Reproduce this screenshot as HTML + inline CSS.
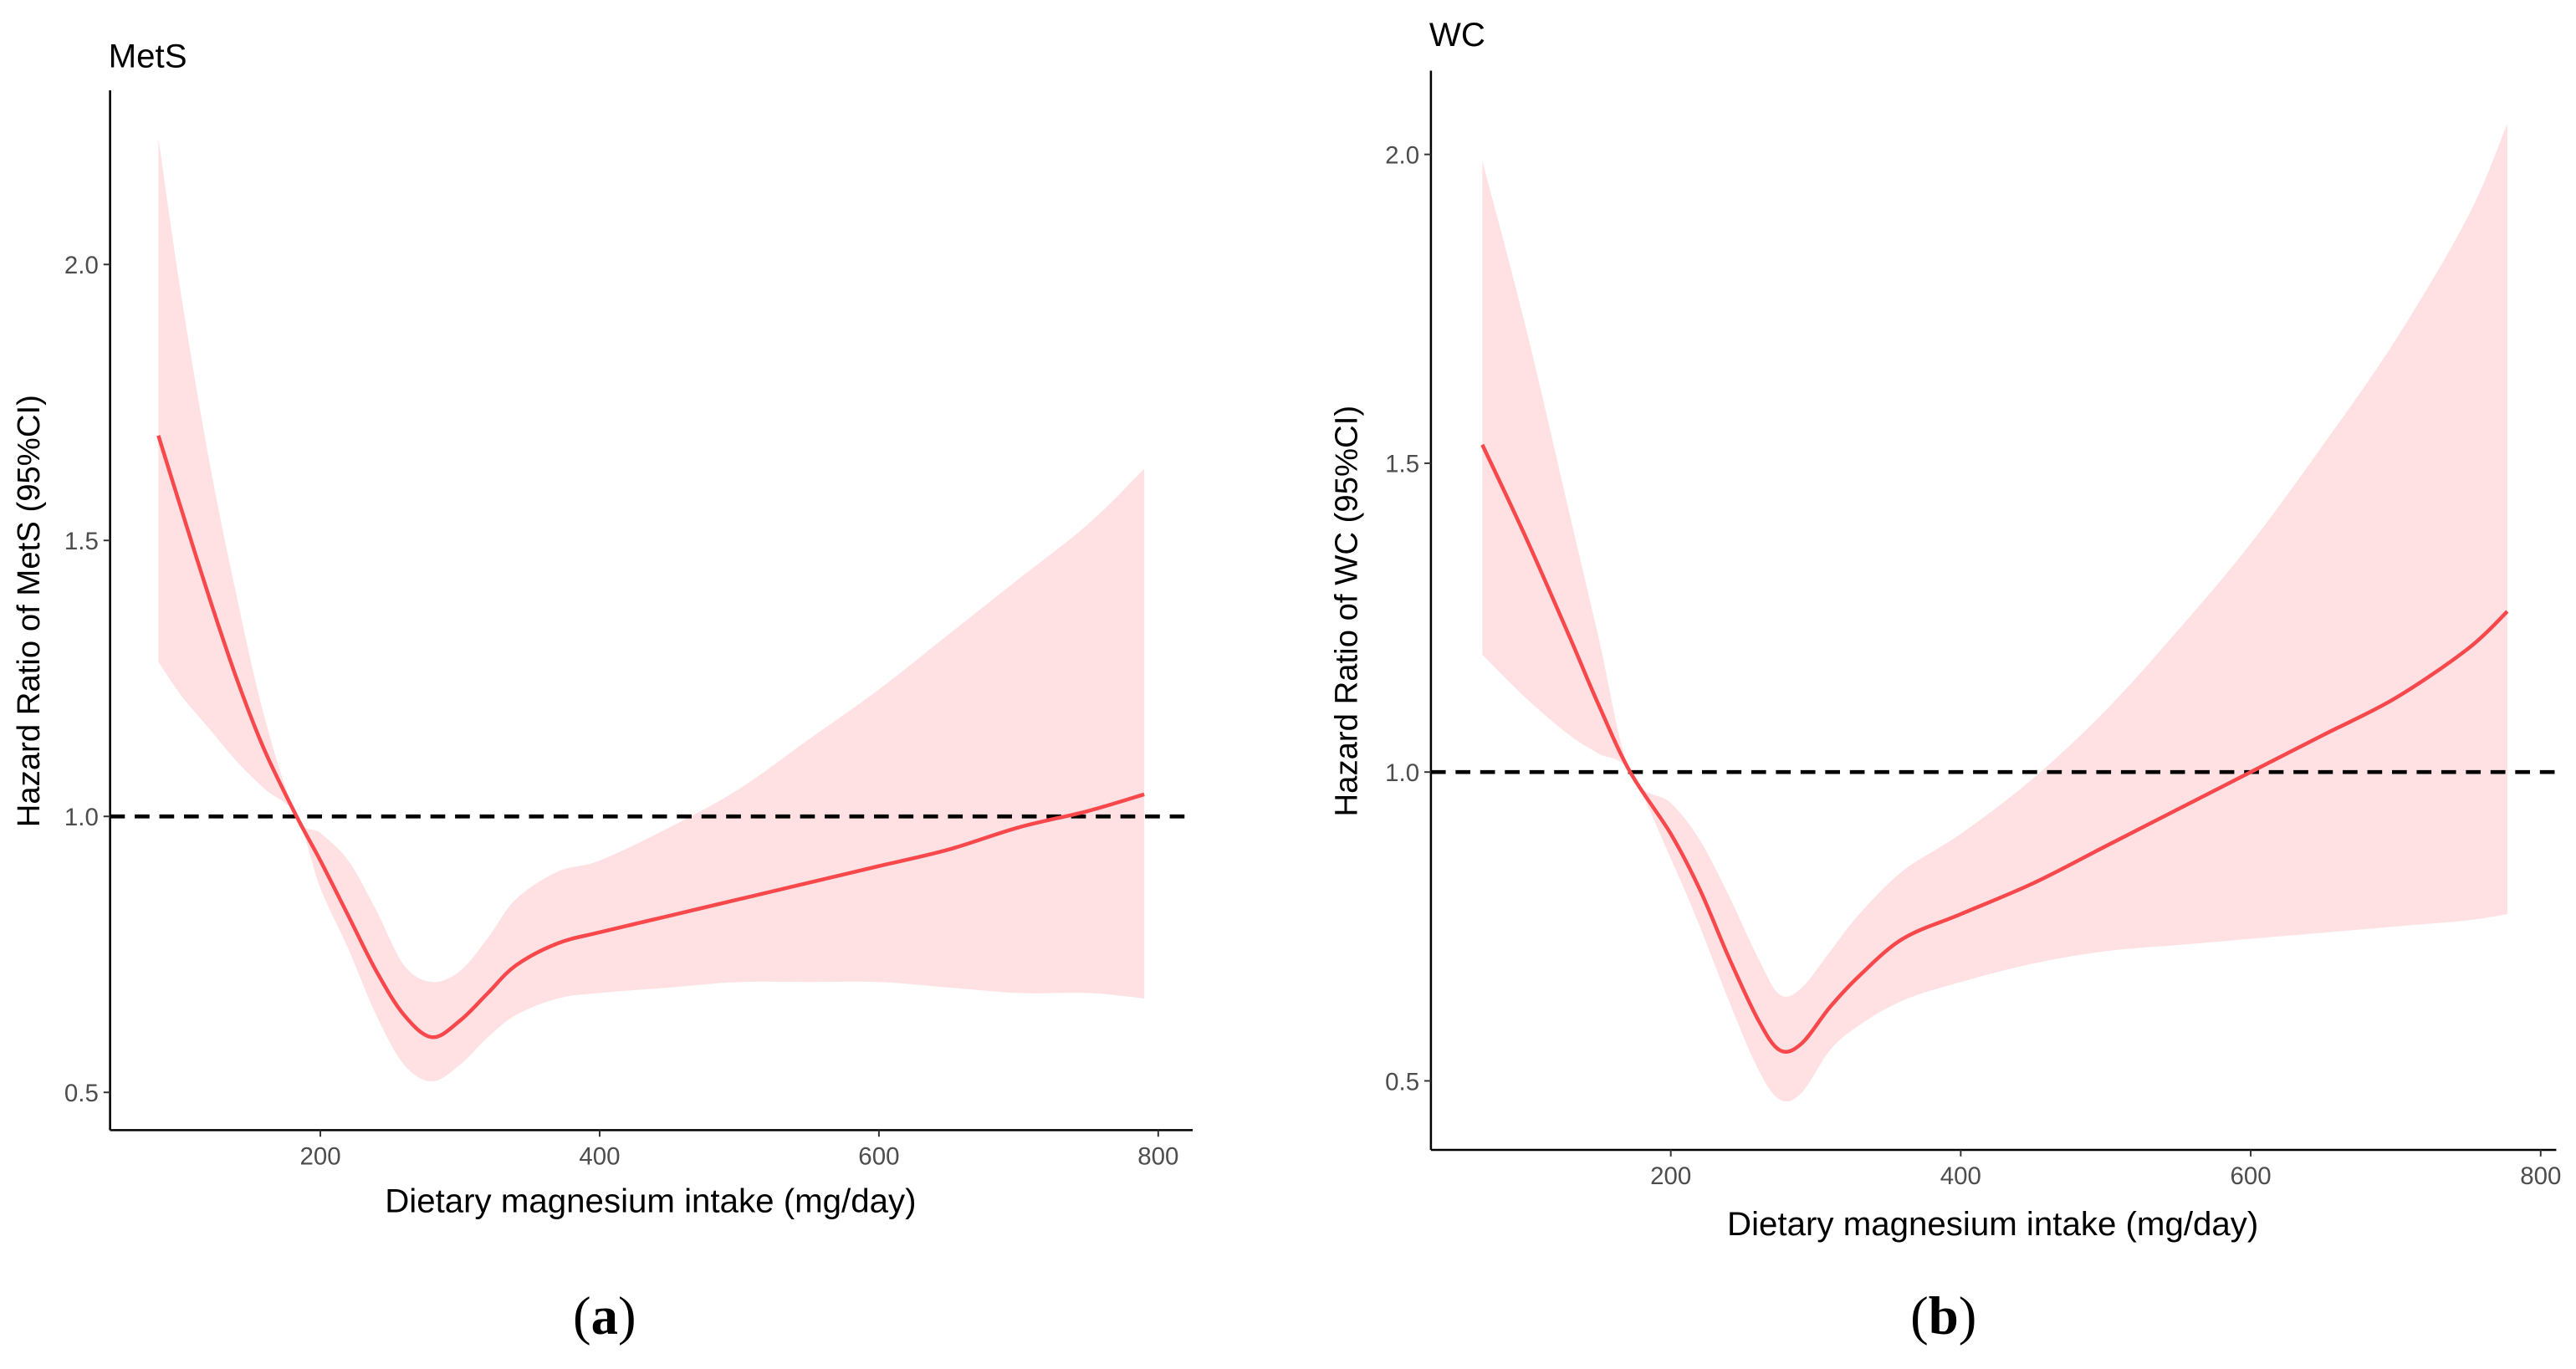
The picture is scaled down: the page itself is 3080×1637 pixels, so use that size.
<!DOCTYPE html>
<html><head><meta charset="utf-8"><style>
html,body{margin:0;padding:0;background:#fff;}
svg{display:block;}
</style></head><body>
<svg id="chart" width="3080" height="1637" viewBox="0 0 1568 833.4" preserveAspectRatio="none" xmlns="http://www.w3.org/2000/svg" font-family="Liberation Sans, sans-serif"></svg>
<script>
const xTicks = [200, 400, 600, 800];
const yTicks = [0.5, 1.0, 1.5, 2.0];
const metsX  = [84,100,120,140,160,183,200,220,240,260,280,300,320,340,370,400,450,500,550,600,650,700,750,790];
const metsHR = [1.69,1.56,1.40,1.25,1.12,1.00,0.92,0.82,0.72,0.64,0.60,0.63,0.68,0.73,0.77,0.79,0.82,0.85,0.88,0.91,0.94,0.98,1.01,1.04];
const metsLo = [1.28,1.22,1.16,1.10,1.05,1.00,0.87,0.76,0.64,0.55,0.52,0.55,0.60,0.64,0.67,0.68,0.69,0.70,0.70,0.70,0.69,0.68,0.68,0.67];
const metsHi = [2.23,1.95,1.65,1.40,1.18,1.00,0.97,0.92,0.83,0.73,0.70,0.72,0.78,0.85,0.90,0.92,0.98,1.05,1.14,1.23,1.33,1.43,1.53,1.63];
const wcX  = [70,100,130,150,172,200,220,240,260,275,290,310,330,360,400,450,500,550,600,650,700,750,777];
const wcHR = [1.53,1.38,1.22,1.11,1.00,0.90,0.81,0.70,0.60,0.55,0.56,0.62,0.67,0.73,0.77,0.82,0.88,0.94,1.00,1.06,1.12,1.20,1.26];
const wcLo = [1.19,1.12,1.06,1.03,1.00,0.86,0.75,0.63,0.52,0.47,0.48,0.55,0.59,0.63,0.66,0.69,0.71,0.72,0.73,0.74,0.75,0.76,0.77];
const wcHi = [1.99,1.72,1.42,1.22,1.00,0.95,0.89,0.80,0.70,0.64,0.65,0.71,0.77,0.84,0.90,0.99,1.10,1.23,1.37,1.53,1.70,1.90,2.05];

const NS = "http://www.w3.org/2000/svg";
const svg = document.getElementById('chart');
function el(tag, attrs, parent, text){
  const e = document.createElementNS(NS, tag);
  for (const k in attrs) e.setAttribute(k, attrs[k]);
  if (text !== undefined) e.textContent = text;
  (parent || svg).appendChild(e);
  return e;
}
function smooth(pts, start){
  let d = start ? 'M' + pts[0][0] + ',' + pts[0][1] : 'L' + pts[0][0] + ',' + pts[0][1];
  for (let i = 0; i < pts.length - 1; i++){
    const p0 = pts[Math.max(0,i-1)], p1 = pts[i], p2 = pts[i+1], p3 = pts[Math.min(pts.length-1,i+2)];
    const c1x = p1[0] + (p2[0]-p0[0])/6, c1y = p1[1] + (p2[1]-p0[1])/6;
    const c2x = p2[0] - (p3[0]-p1[0])/6, c2y = p2[1] - (p3[1]-p1[1])/6;
    d += 'C' + c1x + ',' + c1y + ' ' + c2x + ',' + c2y + ' ' + p2[0] + ',' + p2[1];
  }
  return d;
}
function panel(cfg){
  const g = el('g', {});
  
  
  const sx = v => cfg.x200 + (v - 200) * cfg.pxPer200 / 200;
  const sy = v => cfg.y05 - (v - 0.5) * cfg.pxPer05 / 0.5;
  const hiPts = cfg.xs.map((x,i)=>[sx(x), sy(cfg.hi[i])]);
  const loPts = cfg.xs.map((x,i)=>[sx(x), sy(cfg.lo[i])]).reverse();
  const band = el('path', {d: smooth(hiPts, true) + smooth(loPts, false) + 'Z', fill:'#ffe1e3'}, g);
  
  
  const ref = el('line', {x1:cfg.left, x2:cfg.right, y1:sy(1), y2:sy(1), stroke:'#000', 'stroke-width':2.4, 'stroke-dasharray':'9,6'}, g);
  
  
  const hrPts = cfg.xs.map((x,i)=>[sx(x), sy(cfg.hr[i])]);
  const line = el('path', {d:smooth(hrPts, true), fill:'none', stroke:'#f8484c', 'stroke-width':2.3}, g);
  
  
  const ya = el('line', {x1:cfg.left, x2:cfg.left, y1:cfg.top, y2:cfg.bottom, stroke:'#000', 'stroke-width':1.3}, g);
  
  
  const xa = el('line', {x1:cfg.left, x2:cfg.right, y1:cfg.bottom, y2:cfg.bottom, stroke:'#000', 'stroke-width':1.3}, g);
  
  
  xTicks.forEach(t=>{
    el('line', {x1:sx(t), x2:sx(t), y1:cfg.bottom, y2:cfg.bottom+4, stroke:'#333', 'stroke-width':1}, g);
    const tl = el('text', {x:sx(t), y:cfg.bottom+21, 'text-anchor':'middle', 'font-size':15, fill:'#4d4d4d'}, g, String(t));
    
    
  });
  yTicks.forEach(t=>{
    el('line', {x1:cfg.left-4, x2:cfg.left, y1:sy(t), y2:sy(t), stroke:'#333', 'stroke-width':1}, g);
    const tl = el('text', {x:cfg.left-7, y:sy(t)+5.5, 'text-anchor':'end', 'font-size':15, fill:'#4d4d4d'}, g, t.toFixed(1));
    
    
  });
  const title = el('text', {x:cfg.left-1, y:cfg.titleY, 'font-size':20.5, fill:'#000'}, g, cfg.title);
  
  
  const yl = el('text', {x:0, y:0, transform:'translate('+cfg.ylabX+','+cfg.ylabY+') rotate(-90)', 'text-anchor':'middle', 'font-size':19.5, fill:'#000'}, g, cfg.ylab);
  
  
  const xl = el('text', {x:cfg.xlabX, y:cfg.xlabY, 'text-anchor':'middle', 'font-size':20.5, fill:'#000'}, g, 'Dietary magnesium intake (mg/day)');
  
  
  const cap = el('text', {x:cfg.capX, y:812, 'text-anchor':'middle', 'font-size':33, 'font-family':'Liberation Serif, serif', fill:'#000'}, g);
  
  
  el('tspan', {}, cap, '(');
  el('tspan', {'font-weight':'bold'}, cap, cfg.cap);
  el('tspan', {}, cap, ')');
}
panel({name:'mets-panel', xs:metsX, hr:metsHR, lo:metsLo, hi:metsHi,
  x200:195, pxPer200:170, y05:665, pxPer05:168,
  left:67, right:726, top:55, bottom:688, title:'MetS', titleY:41,
  ylab:'Hazard Ratio of MetS (95%CI)', ylabX:24, ylabY:372,
  xlabX:396, xlabY:738, capX:368, cap:'a'});
panel({name:'wc-panel', xs:wcX, hr:wcHR, lo:wcLo, hi:wcHi,
  x200:1017, pxPer200:176.5, y05:658, pxPer05:188,
  left:871, right:1556, top:43, bottom:700, title:'WC', titleY:28,
  ylab:'Hazard Ratio of WC (95%CI)', ylabX:826, ylabY:372,
  xlabX:1213, xlabY:752, capX:1183, cap:'b'});
</script>
</body></html>
